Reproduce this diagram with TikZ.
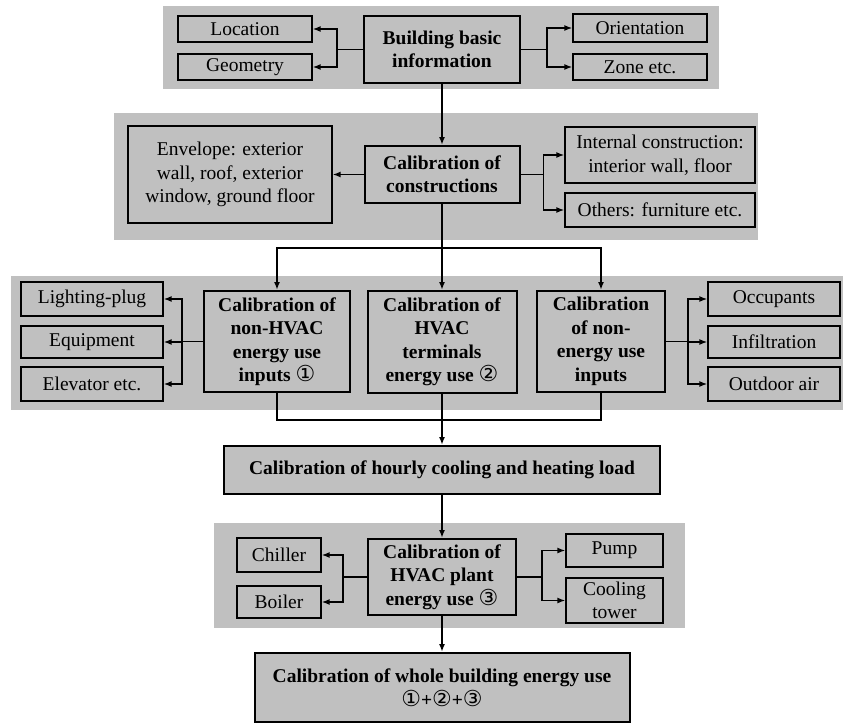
\documentclass[tikz,border=0pt]{standalone}
\usepackage{fontspec}
\setmainfont{Liberation Serif}
\newfontfamily\symfont{DejaVu Sans}
\usetikzlibrary{arrows.meta}
\definecolor{bandgray}{RGB}{192,192,192}
\newcommand{\cnum}[1]{{\symfont\mdseries\fontsize{22}{23.5}\selectfont #1}}
\begin{document}
\begin{tikzpicture}[x=1pt,y=-1pt,
  font=\fontsize{19.5}{23.5}\selectfont,
  >={Latex[length=8pt,width=6pt]},
  band/.style={fill=bandgray},
  mainbox/.style={draw,line width=2pt,fill=bandgray,align=center,inner sep=0pt,
    font=\fontsize{19.5}{23.5}\selectfont\bfseries},
  subbox/.style={draw,line width=1.3pt,fill=bandgray,align=center,inner sep=0pt},
  flow/.style={line width=2pt},
  link/.style={line width=1.5pt}]
  \useasboundingbox (0,0) rectangle (847,723);
  % Hintergrund
  \fill[band] (163,6) rectangle (719,89);
  \fill[band] (114,113) rectangle (758,240);
  \fill[band] (11,276) rectangle (843,410);
  \fill[band] (214,523) rectangle (685,628);
  % Ebene 1
  \node[mainbox,minimum width=156,minimum height=67] (bbi) at (442,49.5) {Building basic\\information};
  \node[subbox,minimum width=134,minimum height=26] (loc) at (245,29) {Location};
  \node[subbox,minimum width=134,minimum height=26] (geo) at (245,67) {Geometry};
  \node[subbox,minimum width=134,minimum height=28] (ori) at (640,28) {Orientation};
  \node[subbox,minimum width=134,minimum height=26] (zone) at (640,67) {Zone etc.};
  % Ebene 2
  \node[mainbox,minimum width=155,minimum height=57] (cons) at (442,174.5) {Calibration of\\constructions};
  \node[subbox,minimum width=204,minimum height=97] (env) at (230,174.5) {Envelope: exterior\\wall, roof, exterior\\window, ground floor};
  \node[subbox,minimum width=190,minimum height=56] (int) at (660,155) {Internal construction:\\interior wall, floor};
  \node[subbox,minimum width=190,minimum height=34] (oth) at (660,210) {Others: furniture etc.};
  % Ebene 3
  \node[mainbox,minimum width=146,minimum height=101] (nonhvac) at (277,341.5) {Calibration of\\non-HVAC\\energy use\\inputs \cnum{①}};
  \node[mainbox,minimum width=149,minimum height=102] (term) at (442,342) {Calibration of\\HVAC\\terminals\\energy use \cnum{②}};
  \node[mainbox,minimum width=128,minimum height=101] (noneng) at (601,341.5) {Calibration\\of non-\\energy use\\inputs};
  \node[subbox,minimum width=142,minimum height=34] (light) at (92,299) {Lighting-plug};
  \node[subbox,minimum width=142,minimum height=32] (equip) at (92,342) {Equipment};
  \node[subbox,minimum width=142,minimum height=34] (elev) at (92,384) {Elevator etc.};
  \node[subbox,minimum width=132,minimum height=34] (occ) at (774,299) {Occupants};
  \node[subbox,minimum width=132,minimum height=32] (infil) at (774,342) {Infiltration};
  \node[subbox,minimum width=132,minimum height=34] (outair) at (774,384) {Outdoor air};
  % Last
  \node[mainbox,minimum width=436,minimum height=48] (hourly) at (442,470) {Calibration of hourly cooling and heating load};
  % Ebene 4
  \node[mainbox,minimum width=148,minimum height=76] (plant) at (442,577) {Calibration of\\HVAC plant\\energy use \cnum{③}};
  \node[subbox,minimum width=84,minimum height=34] (chill) at (279,555) {Chiller};
  \node[subbox,minimum width=84,minimum height=32] (boil) at (279,602) {Boiler};
  \node[subbox,minimum width=97,minimum height=33] (pump) at (614.5,550.5) {Pump};
  \node[subbox,minimum width=97,minimum height=45] (tower) at (614.5,600.5) {Cooling\\tower};
  \node[mainbox,minimum width=375,minimum height=69] (whole) at (442,687.5) {Calibration of whole building energy use\\\cnum{①}+\cnum{②}+\cnum{③}};
  % Verbindungen Ebene 1
  \draw[link,->] (bbi.west) -- ++(-26,0) |- (loc.east);
  \draw[link,->] (bbi.west) -- ++(-26,0) |- (geo.east);
  \draw[link,->] (bbi.east) -- ++(26,0) |- (ori.west);
  \draw[link,->] (bbi.east) -- ++(26,0) |- (zone.west);
  % Verbindungen Ebene 2
  \draw[link,->] (cons.west) -- (env.east);
  \draw[link,->] (cons.east) -- ++(23,0) |- (int.west);
  \draw[link,->] (cons.east) -- ++(23,0) |- (oth.west);
  % Verbindungen Ebene 3
  \foreach \b in {light,equip,elev}
    \draw[link,->] (nonhvac.west) -- ++(-21,0) |- (\b.east);
  \foreach \b in {occ,infil,outair}
    \draw[link,->] (noneng.east) -- ++(22,0) |- (\b.west);
  % Verbindungen Ebene 4
  \draw[link,->] (plant.west) -- ++(-24,0) |- (chill.east);
  \draw[link,->] (plant.west) -- ++(-24,0) |- (boil.east);
  \draw[link,->] (plant.east) -- ++(25,0) |- (pump.west);
  \draw[link,->] (plant.east) -- ++(25,0) |- (tower.west);
  % Hauptfluss
  \draw[flow,->] (bbi.south) -- (cons.north);
  \draw[flow,->] (cons.south) -- ++(0,44) -| (nonhvac.north);
  \draw[flow,->] (cons.south) -- ++(0,44) -| (noneng.north);
  \draw[flow,->] (cons.south) -- (term.north);
  \draw[flow] (nonhvac.south) -- ++(0,27) -| (noneng.south);
  \draw[flow,->] (term.south) -- (hourly.north);
  \draw[flow,->] (hourly.south) -- (plant.north);
  \draw[flow,->] (plant.south) -- (whole.north);
\end{tikzpicture}
\end{document}
